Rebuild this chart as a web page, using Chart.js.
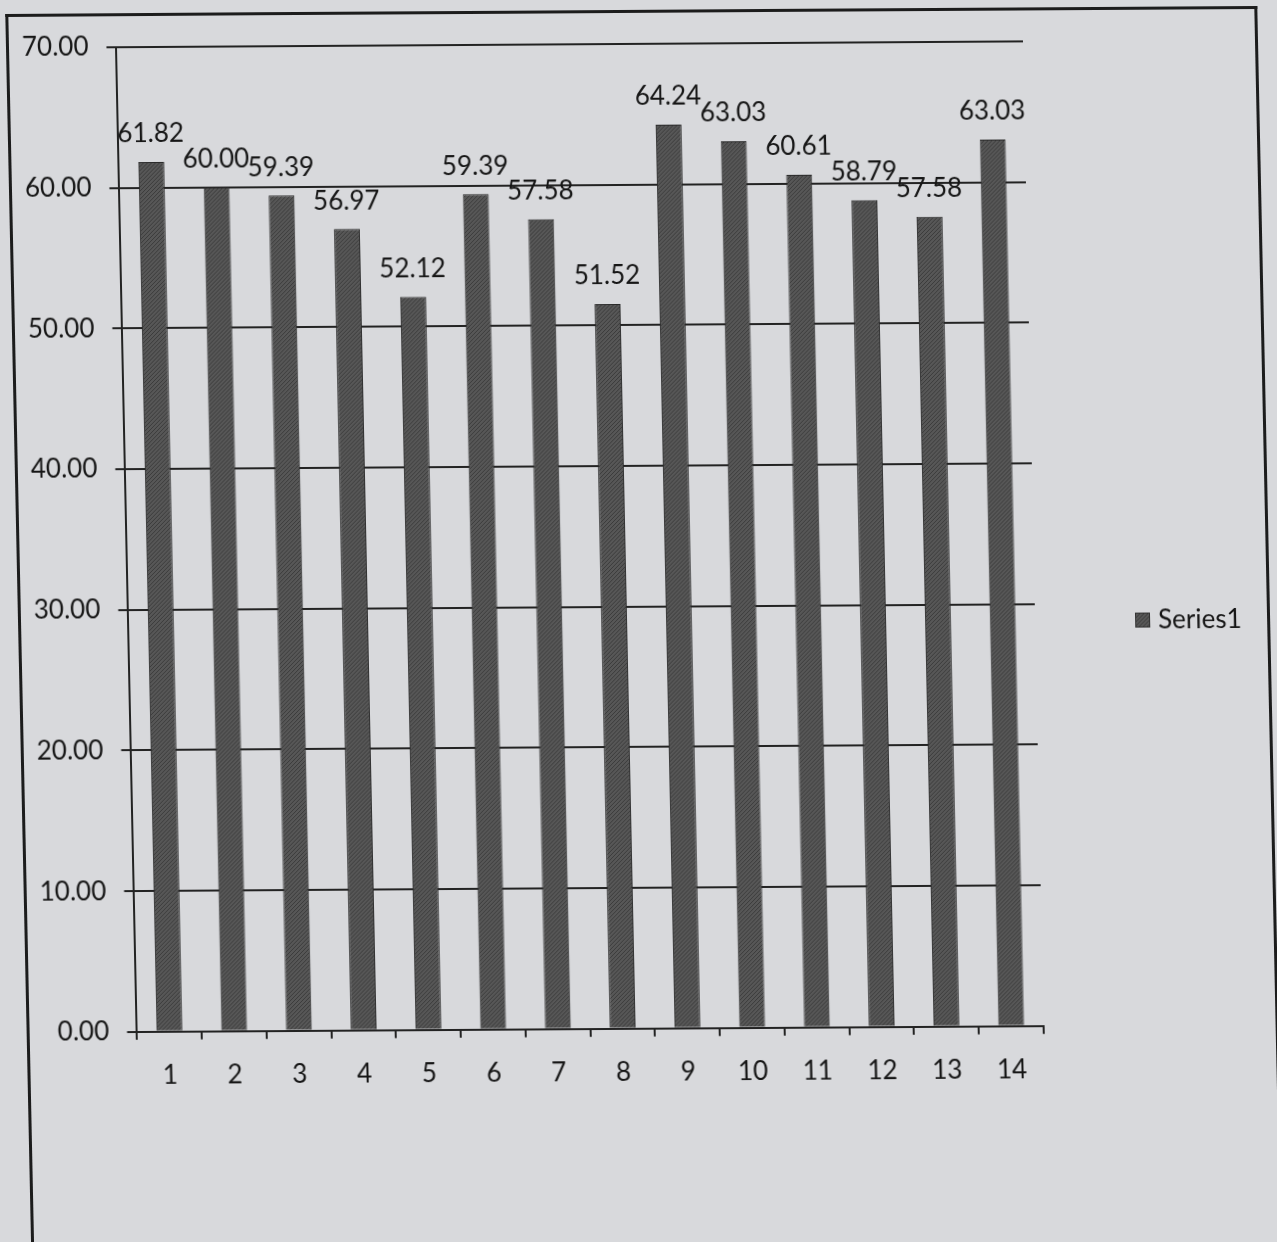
<!DOCTYPE html>
<html>
<head>
<meta charset="utf-8">
<script src="https://cdn.jsdelivr.net/npm/chart.js@4"></script>
<style>
  html, body { margin: 0; padding: 0; overflow: hidden; background: #d8d9dc; }
  #sheet {
    position: absolute; left: 0; top: 0; width: 1277px; height: 1242px;
    transform-origin: 0 0;
    transform: rotate(-0.37deg) skewX(0.83deg);
  }
  #frame {
    position: absolute; left: 5px; top: 14px; width: 1246px; height: 1300px;
    border: 3px solid #1c1c1c; border-bottom: none;
  }
  #chart { position: absolute; left: 0; top: 0; }
</style>
</head>
<body>
<div id="sheet">
  <div id="frame"></div>
  <canvas id="chart" width="1277" height="1242"></canvas>
</div>
<script>
const categories = ['1', '2', '3', '4', '5', '6', '7', '8', '9', '10', '11', '12', '13', '14'];
const series1 = [61.82, 60.00, 59.39, 56.97, 52.12, 59.39, 57.58, 51.52, 64.24, 63.03, 60.61, 58.79, 57.58, 63.03];
const seriesName = 'Series1';
const yMin = 0;
const yMax = 70;
const yStep = 10;

const ink = '#161616';
const lineInk = '#232323';
const fontFamily = 'Lato, "Open Sans", sans-serif';
const fontSize = 26;

// grey hatched fill for the columns
function hatch() {
    const c = document.createElement('canvas');
    c.width = 4; c.height = 4;
    const g = c.getContext('2d');
    g.fillStyle = '#575757';
    g.fillRect(0, 0, 4, 4);
    g.fillStyle = '#3b3b3b';
    for (let i = 0; i < 4; i++) g.fillRect(3 - i, i, 1, 1);
    return g.createPattern(c, 'repeat');
}

// value printed above each column
const valueLabels = {
    id: 'valueLabels',
    afterDatasetsDraw(chart) {
        const ctx = chart.ctx;
        const meta = chart.getDatasetMeta(0);
        ctx.save();
        ctx.font = fontSize + 'px ' + fontFamily;
        ctx.fillStyle = ink;
        ctx.textAlign = 'center';
        ctx.textBaseline = 'middle';
        meta.data.forEach((bar, i) => {
            ctx.fillText(series1[i].toFixed(2), bar.x, bar.y - 28);
        });
        ctx.restore();
    }
};

// legend key on the right
const sideLegend = {
    id: 'sideLegend',
    afterDraw(chart) {
        const ctx = chart.ctx;
        const x = chart.chartArea.right + 100;
        const y = 628;
        ctx.save();
        ctx.fillStyle = chart.data.datasets[0].backgroundColor;
        ctx.fillRect(x, y - 8, 15, 15);
        ctx.strokeStyle = '#333';
        ctx.lineWidth = 1;
        ctx.strokeRect(x + 0.5, y - 7.5, 14, 14);
        ctx.font = fontSize + 'px ' + fontFamily;
        ctx.fillStyle = ink;
        ctx.textBaseline = 'middle';
        ctx.fillText(chart.data.datasets[0].label, x + 23, y);
        ctx.restore();
    }
};

chartIt();

function chartIt() {
    const ctx = document.getElementById('chart');

    new Chart(ctx, {
        type: 'bar',
        data: {
            labels: categories,
            datasets: [{
                label: seriesName,
                data: series1,
                backgroundColor: hatch(),
                borderColor: '#2a2a2a',
                borderWidth: 1,
                barPercentage: 0.4,
                categoryPercentage: 1.0
            }]
        },
        options: {
            responsive: false,
            animation: false,
            layout: {
                padding: { left: 3, top: 48, right: 255, bottom: 130 }
            },
            plugins: {
                legend: { display: false },
                tooltip: { enabled: false }
            },
            scales: {
                x: {
                    grid: {
                        offset: true,
                        drawOnChartArea: false,
                        color: lineInk,
                        lineWidth: 2,
                        tickLength: 8
                    },
                    border: { display: true, color: lineInk, width: 2 },
                    ticks: {
                        color: ink,
                        padding: 20,
                        font: { family: fontFamily, size: fontSize }
                    }
                },
                y: {
                    min: yMin,
                    max: yMax,
                    grid: {
                        color: lineInk,
                        lineWidth: 2,
                        tickLength: 10
                    },
                    border: { display: true, color: lineInk, width: 2 },
                    ticks: {
                        stepSize: yStep,
                        color: ink,
                        padding: 18,
                        font: { family: fontFamily, size: fontSize },
                        callback: v => Number(v).toFixed(2)
                    }
                }
            }
        },
        plugins: [valueLabels, sideLegend]
    });
}
</script>
</body>
</html>
